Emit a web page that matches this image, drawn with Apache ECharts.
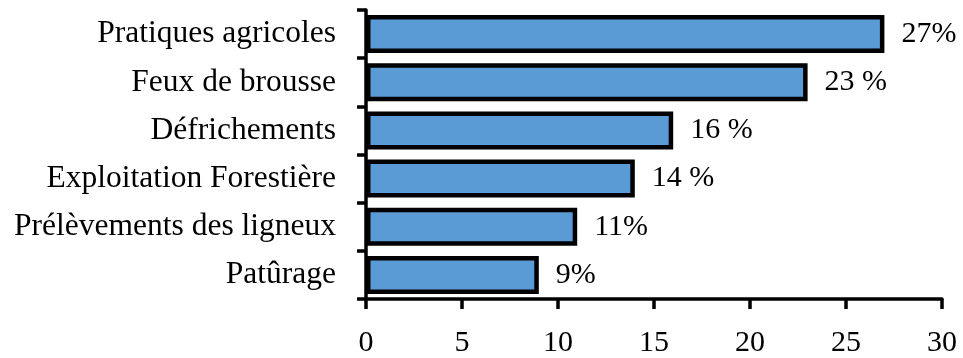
<!DOCTYPE html>
<html>
<head>
<meta charset="utf-8">
<script src="https://cdn.jsdelivr.net/npm/echarts@6/dist/echarts.min.js"></script>
<style>
  html, body { margin: 0; padding: 0; background: #ffffff; }
  #chart { width: 963px; height: 358px; }
</style>
</head>
<body>
<div id="chart"></div>
<script>
// Causes of degradation, share in percent
const categories = [
  'Pratiques agricoles',
  'Feux de brousse',
  'Défrichements',
  'Exploitation Forestière',
  'Prélèvements des ligneux',
  'Patûrage'
];
const values = [27, 23, 16, 14, 11, 9];
const valueLabels = ['27%', '23 %', '16 %', '14 %', '11%', '9%'];
const xTicks = [0, 5, 10, 15, 20, 25, 30];

const serif = '"Liberation Serif", "Times New Roman", serif';

const chart = echarts.init(document.getElementById('chart'), null, { renderer: 'canvas' });

chart.setOption({
  animation: false,
  backgroundColor: '#ffffff',
  grid: { left: 366, right: 21, top: 10, bottom: 52, containLabel: false },
  xAxis: {
    type: 'value',
    min: xTicks[0],
    max: xTicks[xTicks.length - 1],
    interval: xTicks[1] - xTicks[0],
    axisLine: { show: true, lineStyle: { color: '#000', width: 3.5 } },
    axisTick: { show: true, length: 10, lineStyle: { color: '#000', width: 3.5 } },
    splitLine: { show: false },
    axisLabel: { color: '#000', fontFamily: serif, fontSize: 30, margin: 29 }
  },
  yAxis: {
    type: 'category',
    data: categories,
    inverse: true,
    axisLine: { show: true, lineStyle: { color: '#000', width: 3.5 } },
    axisTick: { show: true, length: 9, lineStyle: { color: '#000', width: 3.5 } },
    axisLabel: { color: '#000', fontFamily: serif, fontSize: 31.5, margin: 30 }
  },
  series: [{
    type: 'bar',
    data: values,
    barWidth: 38,
    itemStyle: { color: '#5B9BD5', borderColor: '#000', borderWidth: 4.5 },
    label: {
      show: true,
      position: 'right',
      distance: 17,
      color: '#000',
      fontFamily: serif,
      fontSize: 30,
      formatter: p => valueLabels[p.dataIndex]
    }
  }]
});
</script>
</body>
</html>
